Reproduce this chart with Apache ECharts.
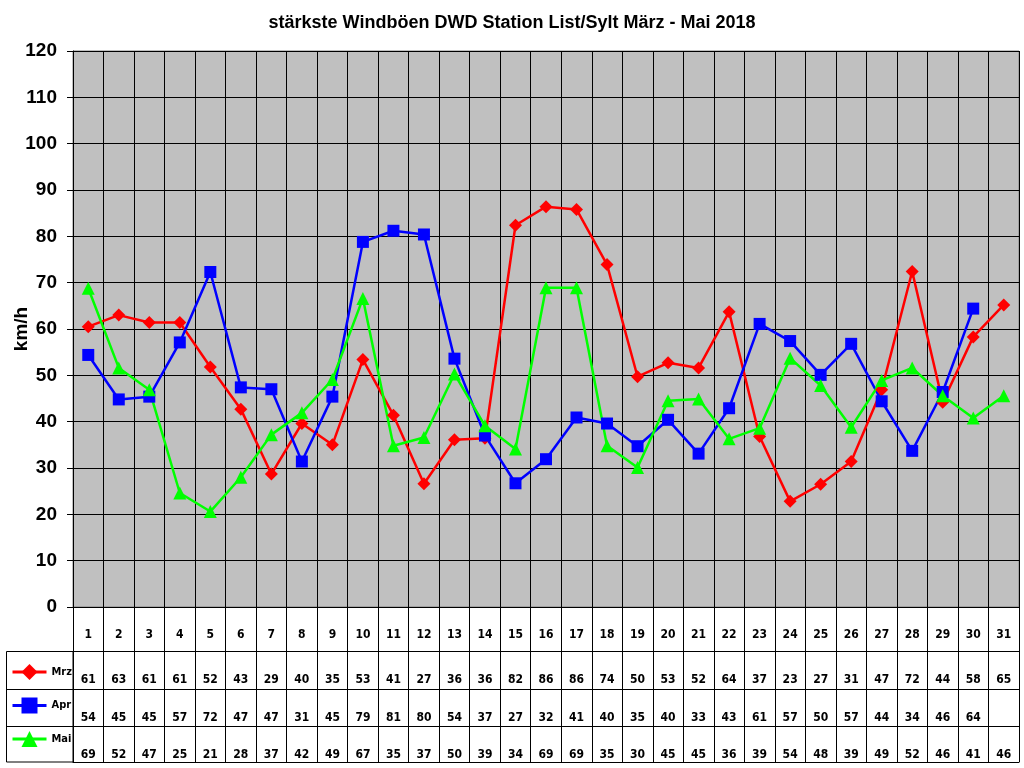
<!DOCTYPE html>
<html>
<head>
<meta charset="utf-8">
<title>stärkste Windböen DWD Station List/Sylt März - Mai 2018</title>
<script src="https://cdn.jsdelivr.net/npm/echarts@6/dist/echarts.min.js"></script>
<style>
    html, body { margin: 0; padding: 0; background: #fff; }
    #chartContainer { width: 1024px; height: 768px; }
</style>
</head>
<body>
<div id="chartContainer"></div>
<script>
// Tage (Kategorien)
const days = ['1', '2', '3', '4', '5', '6', '7', '8', '9', '10', '11', '12', '13', '14', '15', '16',
    '17', '18', '19', '20', '21', '22', '23', '24', '25', '26', '27', '28', '29', '30', '31'];

// stärkste Böen in km/h
const mrz = [60.5, 63.0, 61.4, 61.4, 51.8, 42.7, 28.7, 39.6, 35.0, 53.4, 41.4, 26.6, 36.1, 36.4, 82.4, 86.4,
    85.8, 73.9, 49.7, 52.7, 51.6, 63.7, 36.8, 22.8, 26.5, 31.4, 46.9, 72.4, 44.2, 58.3, 65.2];
const apr = [54.4, 44.8, 45.4, 57.1, 72.3, 47.4, 47.0, 31.4, 45.4, 78.8, 81.2, 80.4, 53.6, 37.0, 26.7, 31.9,
    40.9, 39.6, 34.7, 40.4, 33.1, 42.9, 61.1, 57.4, 50.1, 56.8, 44.4, 33.7, 46.4, 64.4];
const mai = [68.8, 51.6, 46.9, 24.6, 20.6, 28.0, 37.2, 41.9, 49.1, 66.6, 34.8, 36.6, 50.3, 39.1, 34.1, 68.9,
    68.9, 34.8, 30.1, 44.5, 44.9, 36.3, 38.6, 53.7, 47.8, 38.8, 48.9, 51.6, 45.6, 40.8, 45.6];

const seriesNames = ['Mrz', 'Apr', 'Mai'];

const narrowFont = "'Liberation Sans Narrow', 'Arial Narrow', 'DejaVu Sans Condensed', sans-serif";
const mainFont = "'Liberation Sans', Arial, sans-serif";

// Wert für die Datentabelle (gerundet)
function tableLabel(values) {
    return function (value, index) {
        const v = values[index];
        return v === undefined ? '' : String(Math.round(v));
    };
}

// eine Tabellenzeile als zusätzliche x-Achse unter dem Diagramm
function tableRow(offset, values) {
    return {
        type: 'category',
        data: days,
        position: 'bottom',
        offset: offset,
        axisLine: { show: true, lineStyle: { color: '#000', width: 1 } },
        axisTick: { show: false },
        splitLine: { show: false },
        axisLabel: {
            show: values !== null,
            interval: 0,
            margin: 23,
            color: '#000',
            fontFamily: narrowFont,
            fontWeight: 'bold',
            fontSize: 12,
            formatter: values ? tableLabel(values) : ''
        }
    };
}

const chart = echarts.init(document.getElementById('chartContainer'), null, { renderer: 'canvas' });

const option = {
    animation: false,
    backgroundColor: '#fff',
    title: {
        text: 'stärkste Windböen DWD Station List/Sylt März - Mai 2018',
        left: 'center',
        top: 9,
        textStyle: {
            fontFamily: mainFont,
            fontWeight: 'bold',
            fontSize: 18,
            color: '#000'
        }
    },
    legend: {
        data: seriesNames,
        orient: 'vertical',
        left: 11,
        top: 664,
        padding: 0,
        itemWidth: 34,
        itemHeight: 20,
        itemGap: 17.5,
        selectedMode: false,
        lineStyle: { width: 3 },
        textStyle: {
            fontFamily: narrowFont,
            fontWeight: 'bold',
            fontSize: 11,
            color: '#000',
            padding: [12, 0, 0, 0]
        }
    },
    grid: {
        left: 73,
        right: 5,
        top: 51,
        bottom: 161,
        show: true,
        backgroundColor: '#c0c0c0',
        borderColor: '#808080',
        borderWidth: 1,
        outerBoundsMode: 'none'
    },
    xAxis: [
        {
            type: 'category',
            data: days,
            boundaryGap: true,
            axisLine: { show: true, lineStyle: { color: '#000', width: 1 } },
            // Ticks bilden die senkrechten Linien der Tabelle
            axisTick: { show: true, interval: 0, length: 155, lineStyle: { color: '#000', width: 1 } },
            splitLine: { show: true, interval: 0, lineStyle: { color: '#000', width: 1 } },
            axisLabel: {
                interval: 0,
                margin: 22,
                color: '#000',
                fontFamily: narrowFont,
                fontWeight: 'bold',
                fontSize: 12
            }
        },
        tableRow(44, mrz),
        tableRow(82, apr),
        tableRow(119, mai),
        tableRow(155, null)
    ],
    yAxis: {
        type: 'value',
        min: 0,
        max: 120,
        interval: 10,
        name: 'km/h',
        nameLocation: 'middle',
        nameRotate: 90,
        nameGap: 42,
        nameMoveOverlap: false,
        nameTextStyle: {
            fontFamily: mainFont,
            fontWeight: 'bold',
            fontSize: 19,
            color: '#000'
        },
        axisLine: { show: true, lineStyle: { color: '#000', width: 1 } },
        axisTick: { show: true, length: 6, lineStyle: { color: '#000', width: 1 } },
        splitLine: { show: true, lineStyle: { color: '#000', width: 1 } },
        axisLabel: {
            margin: 16,
            color: '#000',
            fontFamily: mainFont,
            fontWeight: 'bold',
            fontSize: 19
        }
    },
    // Rahmen der Legendenspalte links in der Tabelle
    graphic: [
        {
            type: 'rect',
            shape: { x: 6.5, y: 651.5, width: 66.5, height: 110.5 },
            style: { fill: 'none', stroke: '#000', lineWidth: 1 },
            silent: true
        },
        {
            type: 'line',
            shape: { x1: 6.5, y1: 689.5, x2: 73, y2: 689.5 },
            style: { stroke: '#000', lineWidth: 1 },
            silent: true
        },
        {
            type: 'line',
            shape: { x1: 6.5, y1: 726.5, x2: 73, y2: 726.5 },
            style: { stroke: '#000', lineWidth: 1 },
            silent: true
        }
    ],
    series: [
        {
            name: 'Mrz',
            type: 'line',
            data: mrz,
            symbol: 'diamond',
            symbolSize: 13,
            showAllSymbol: true,
            color: '#ff0000',
            lineStyle: { width: 2.5, color: '#ff0000' },
            itemStyle: { color: '#ff0000' },
            emphasis: { disabled: true }
        },
        {
            name: 'Apr',
            type: 'line',
            data: apr,
            symbol: 'rect',
            symbolSize: 12,
            showAllSymbol: true,
            color: '#0000ff',
            lineStyle: { width: 2.5, color: '#0000ff' },
            itemStyle: { color: '#0000ff' },
            emphasis: { disabled: true }
        },
        {
            name: 'Mai',
            type: 'line',
            data: mai,
            symbol: 'triangle',
            symbolSize: 13,
            showAllSymbol: true,
            color: '#00ff00',
            lineStyle: { width: 2.5, color: '#00ff00' },
            itemStyle: { color: '#00ff00' },
            emphasis: { disabled: true }
        }
    ]
};

chart.setOption(option);

window.addEventListener('resize', function () {
    chart.resize();
});
</script>
</body>
</html>
